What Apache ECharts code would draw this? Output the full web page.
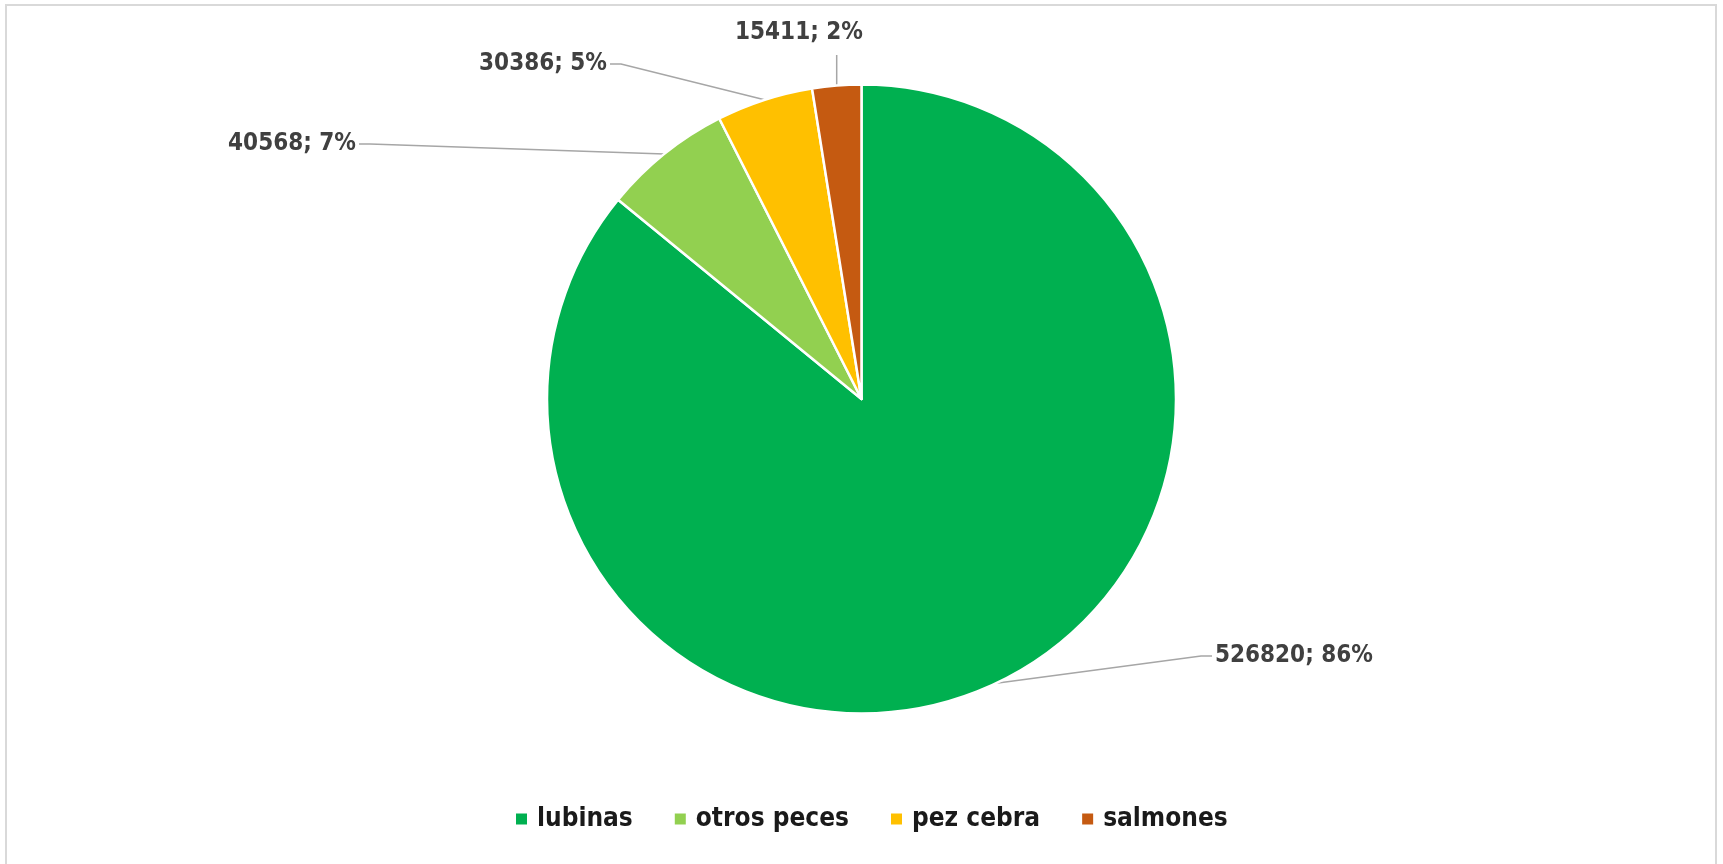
<!DOCTYPE html>
<html>
<head>
<meta charset="utf-8">
<script src="https://cdn.jsdelivr.net/npm/echarts@6/dist/echarts.min.js"></script>
<style>
html,body{margin:0;padding:0;background:#fff;}
#chart{width:1723px;height:864px;}
</style>
</head>
<body>
<div id="chart"></div>
<script>
const categories = ['lubinas', 'otros peces', 'pez cebra', 'salmones'];
const values = [526820, 40568, 30386, 15411];
const colors = ['#00B050', '#92D050', '#FFC000', '#C55A11'];

const FONT = '"DejaVu Sans Condensed", "Liberation Sans Narrow", "Liberation Sans", sans-serif';
const pieCenter = [861.5, 399];
const pieRadius = 314.5;
// label anchor placement (layout only)
const labelAnchors = [
  {x: 1215, y: 656, align: 'left'},
  {x: 356, y: 144, align: 'right'},
  {x: 607, y: 64, align: 'right'},
  {x: 799, y: 33, align: 'center'}
];

const total = values.reduce((a, b) => a + b, 0);
function midPoint(i) {
  let before = 0;
  for (let k = 0; k < i; k++) before += values[k];
  const frac = (before + values[i] / 2) / total;
  const ang = frac * 2 * Math.PI; // clockwise from top
  return [pieCenter[0] + pieRadius * Math.sin(ang), pieCenter[1] - pieRadius * Math.cos(ang)];
}

const chart = echarts.init(document.getElementById('chart'), null, {renderer: 'canvas'});
chart.setOption({
  animation: false,
  backgroundColor: '#ffffff',
  color: colors,
  graphic: [{
    type: 'rect',
    shape: {x: 6, y: 5, width: 1710, height: 870},
    style: {fill: 'none', stroke: '#d9d9d9', lineWidth: 2},
    silent: true
  }],
  legend: {
    bottom: 27,
    left: 509,
    icon: 'rect',
    itemWidth: 13,
    itemHeight: 13,
    itemGap: 40,
    textStyle: {fontFamily: FONT, fontSize: 26, fontWeight: 'bold', color: '#1a1a1a', padding: [0, 0, 0, 4]},
    data: categories
  },
  series: [{
    type: 'pie',
    center: pieCenter,
    radius: pieRadius,
    startAngle: 90,
    clockwise: true,
    percentPrecision: 0,
    data: categories.map((c, i) => ({name: c, value: values[i]})),
    itemStyle: {borderColor: '#ffffff', borderWidth: 2.5},
    emphasis: {disabled: true},
    label: {
      show: true,
      formatter: p => p.value + '; ' + p.percent + '%',
      fontFamily: FONT,
      fontSize: 24,
      fontWeight: 'bold',
      color: '#404040'
    },
    labelLine: {show: true, lineStyle: {color: '#a6a6a6', width: 1.5}},
    labelLayout: function (p) {
      const a = labelAnchors[p.dataIndex];
      const m = midPoint(p.dataIndex);
      const h = p.labelRect.height;
      let pts;
      if (a.align === 'left') {
        pts = [m, [a.x - 14, a.y], [a.x - 3, a.y]];
      } else if (a.align === 'right') {
        pts = [m, [a.x + 14, a.y], [a.x + 3, a.y]];
      } else {
        pts = [m, [m[0], a.y + h / 2 + 11], [m[0], a.y + h / 2 + 10]];
      }
      return {x: a.x, y: a.y, align: a.align, verticalAlign: 'middle', labelLinePoints: pts};
    }
  }]
});
</script>
</body>
</html>
